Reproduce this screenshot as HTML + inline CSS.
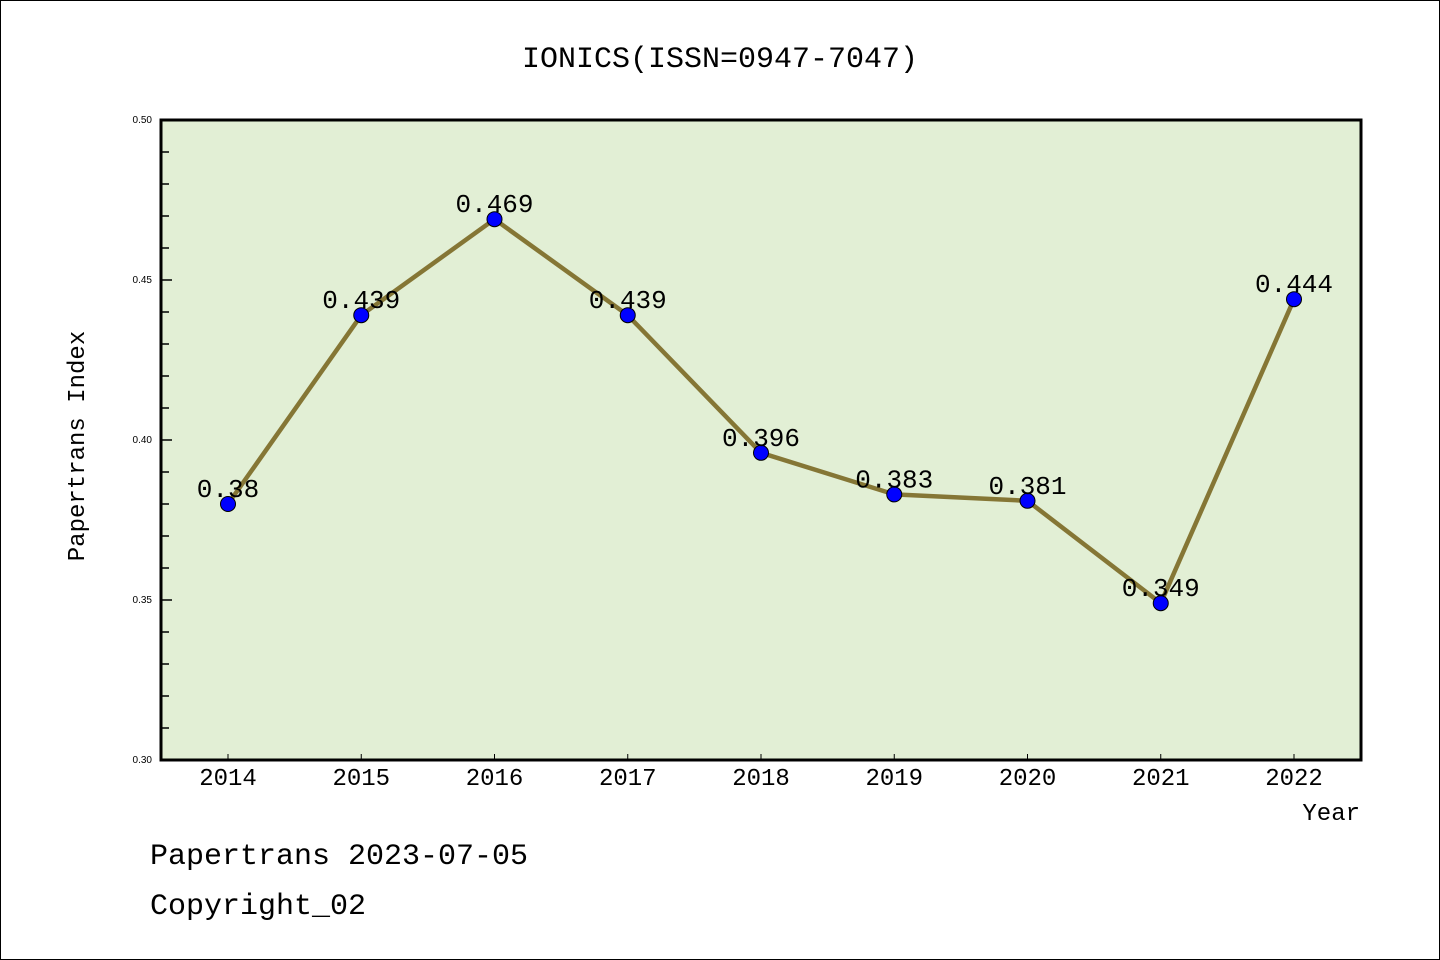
<!DOCTYPE html>
<html><head><meta charset="utf-8"><style>
body{margin:0;background:#fff}
svg{display:block}
text{font-family:"Liberation Mono","WenQuanYi Zen Hei",monospace;fill:#000}
</style></head><body>
<svg id="chart" width="1440" height="960">
<rect x="0.5" y="0.5" width="1439" height="959" fill="#fff" stroke="#000" stroke-width="1"/>
<text x="720" y="67" font-size="30" text-anchor="middle">IONICS(ISSN=0947-7047)</text>
<rect x="161" y="120" width="1200" height="640" fill="#e2efd5"/>
<g id="yaxis"></g>
<g id="xaxis"></g>
<g id="series"></g>
<rect x="161" y="120" width="1200" height="640" fill="none" stroke="#000" stroke-width="3"/>
<text x="84" y="446" font-size="24" text-anchor="middle" transform="rotate(-90 84 446)">Papertrans Index</text>
<text x="1360" y="820" font-size="24" text-anchor="end">Year</text>
<text x="150" y="864" font-size="30">Papertrans 2023-07-05</text>
<text x="150" y="914" font-size="30">Copyright_02</text>
</svg>
<script>
const years=["2014","2015","2016","2017","2018","2019","2020","2021","2022"];
const values=[0.38,0.439,0.469,0.439,0.396,0.383,0.381,0.349,0.444];
const labels=["0.38","0.439","0.469","0.439","0.396","0.383","0.381","0.349","0.444"];
const yTicks=["0.30","0.35","0.40","0.45","0.50"];
const NS="http://www.w3.org/2000/svg";
const yMin=0.30,yMax=0.50;
function ys(v){return 760-(v-yMin)/(yMax-yMin)*640;}
function xs(i){return 228+i*133.25;}
function mk(tag,attrs,parent){const e=document.createElementNS(NS,tag);for(const k in attrs)e.setAttribute(k,attrs[k]);parent.appendChild(e);return e;}
const ya=document.getElementById('yaxis'),xa=document.getElementById('xaxis'),sg=document.getElementById('series');
for(let k=0;k<=20;k++){
  const v=yMin+k*0.01,y=ys(v),major=k%5===0;
  const t=mk('line',{x1:161,x2:major?172:169,y1:y,y2:y,stroke:'#000','stroke-width':1.5},ya);
  
  
}
yTicks.forEach(s=>{
  const t=mk('text',{x:152,y:ys(parseFloat(s))+3,'font-size':10,'text-anchor':'end','style':'font-family:"Liberation Sans",sans-serif'},ya);
  t.textContent=s;
  
  
});
years.forEach((yr,i)=>{
  const l=mk('line',{x1:xs(i),x2:xs(i),y1:760,y2:754,stroke:'#000','stroke-width':1},xa);
  
  
  const t=mk('text',{x:xs(i),y:785,'font-size':24,'text-anchor':'middle'},xa);
  t.textContent=yr;
  
  
});
const pts=values.map((v,i)=>xs(i)+','+ys(v)).join(' ');
const pl=mk('polyline',{points:pts,fill:'none',stroke:'#857635','stroke-width':4.5,'stroke-linejoin':'round'},sg);


values.forEach((v,i)=>{
  const c=mk('circle',{cx:xs(i),cy:ys(v),r:7.5,fill:'#0000ff',stroke:'#000','stroke-width':1},sg);
  
  
  const t=mk('text',{x:xs(i),y:ys(v)-7,'font-size':26,'text-anchor':'middle'},sg);
  t.textContent=labels[i];
  
  
});
</script>
</body></html>
